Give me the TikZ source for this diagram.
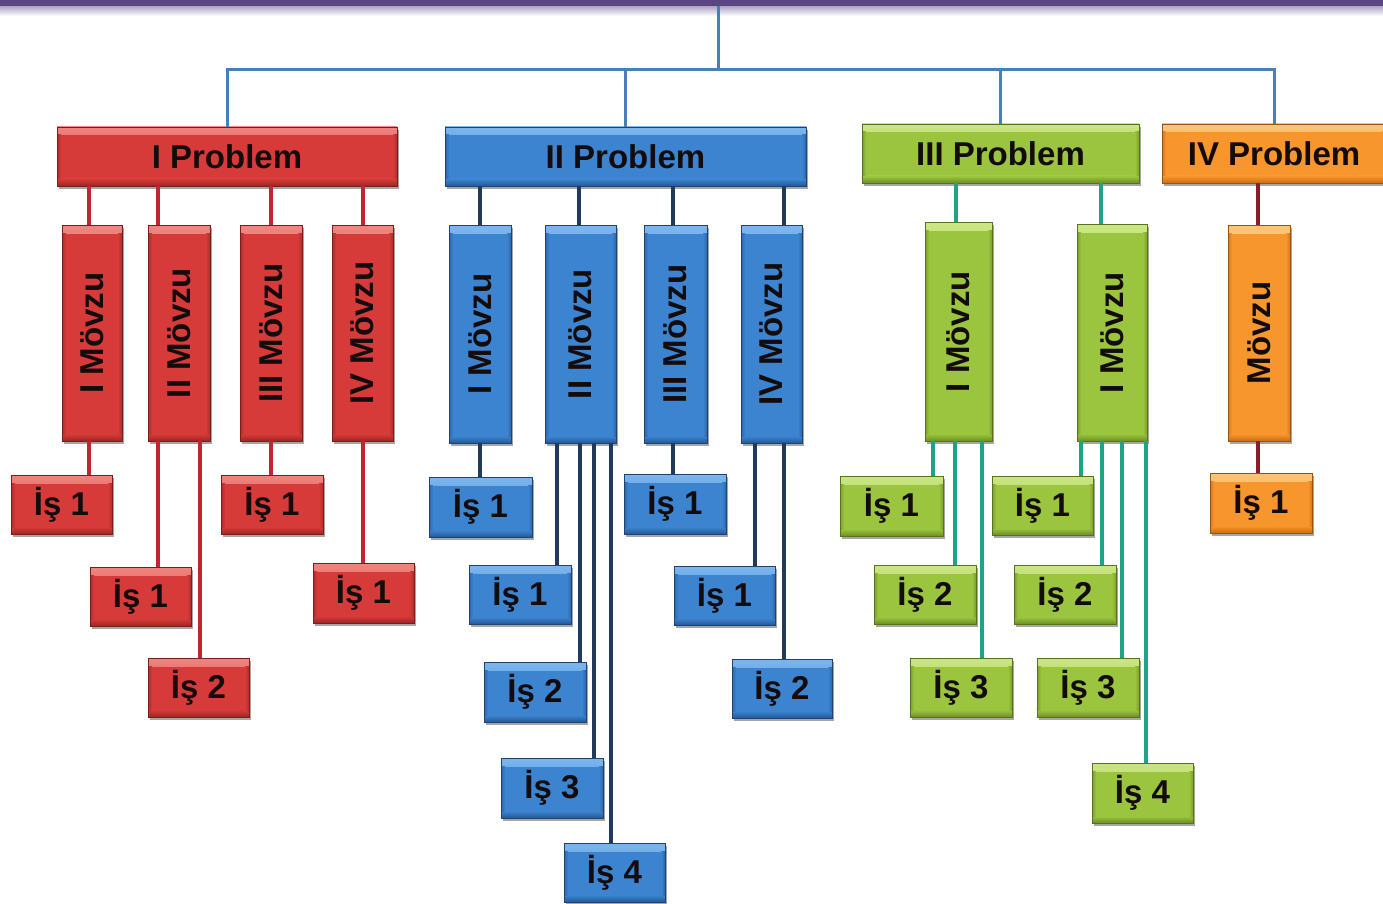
\documentclass[tikz,border=0pt]{standalone}
\usepackage{fontspec}
\setmainfont{Liberation Sans}
\usepackage{graphicx}
\usetikzlibrary{shadows}
\definecolor{R}{HTML}{D63B3A}\definecolor{RLt}{HTML}{F08580}\definecolor{RDk}{HTML}{9A2624}\definecolor{RBd}{HTML}{7A1E1C}
\definecolor{B}{HTML}{3C84CF}\definecolor{BLt}{HTML}{7DB6EE}\definecolor{BDk}{HTML}{24589A}\definecolor{BBd}{HTML}{1E4470}
\definecolor{G}{HTML}{9BC43F}\definecolor{GLt}{HTML}{CBE684}\definecolor{GDk}{HTML}{6E8E24}\definecolor{GBd}{HTML}{56741E}
\definecolor{O}{HTML}{F7962C}\definecolor{OLt}{HTML}{FCC677}\definecolor{ODk}{HTML}{C96C14}\definecolor{OBd}{HTML}{9A5410}
\definecolor{txt}{HTML}{140C0C}
\definecolor{topline}{HTML}{4A7EBB}
\definecolor{barpurple}{HTML}{5A4683}
\definecolor{lR}{HTML}{C02630}
\definecolor{lB}{HTML}{1F3A5A}
\definecolor{lG}{HTML}{1FA384}
\definecolor{lO}{HTML}{8C1C2C}
\tikzset{
  box/.style={draw=#1Bd, line width=0.8pt, inner sep=0pt, outer sep=0pt,
    fill=#1,
    path picture={
      \shade[top color=#1Lt, bottom color=#1] (path picture bounding box.north west) rectangle ([yshift=-8pt]path picture bounding box.north east);
      \shade[top color=#1, bottom color=#1Dk] ([yshift=7pt]path picture bounding box.south west) rectangle (path picture bounding box.south east);
      \shade[left color=#1Dk!70!#1, right color=#1] ([yshift=7pt]path picture bounding box.south west) rectangle ([xshift=4pt,yshift=-8pt]path picture bounding box.north west);
      \shade[left color=#1, right color=#1Dk!70!#1] ([xshift=-4pt,yshift=7pt]path picture bounding box.south east) rectangle ([yshift=-8pt]path picture bounding box.north east);
    },
    drop shadow={shadow xshift=2pt, shadow yshift=-3pt, opacity=0.35, fill=black},
    text=txt, font=\bfseries\fontsize{33}{37}\selectfont},
  conn/.style={line width=3.4pt, draw=#1},
  trunk/.style={line width=3pt, draw=topline}
}
\newcommand\bx[7]{\node[box=#2, minimum width={(#5-#3)*1pt}, minimum height={(#6-#4)*1pt}] (#1) at ({(#3+#5)/2},{(#4+#6)/2}) {#7};}
\newcommand\rot[1]{\rotatebox{90}{#1}}
\newcommand\lnk[4]{\coordinate (t) at (#4,0); \draw[conn=#1] (#2.south -| t) -- (#3.north -| t);}
\begin{document}
\begin{tikzpicture}[x=1pt,y=-1pt]
\fill[white] (0,0) rectangle (1383,904);
\useasboundingbox (0,0) rectangle (1383,904);
% top bar
\shade[top color=barpurple!55, bottom color=white] (0,5) rectangle (1383,16);
\node[fill=barpurple, inner sep=0pt, outer sep=0pt, minimum width=1383pt, minimum height=6pt, anchor=north west] (bar) at (0,0) {};
\coordinate (hub) at (718,70);
% problems
\bx{p1}{R}{57}{127}{397}{186}{I Problem}
\bx{p2}{B}{445}{127}{806}{186}{II Problem}
\bx{p3}{G}{862}{124}{1139}{183}{III Problem}
\bx{p4}{O}{1162}{124}{1386}{183}{IV Problem}
% trunk
\draw[trunk] (bar.south -| hub) -- (hub);
\draw[trunk] (p1.north) |- (hub) -| (p4.north);
\draw[trunk] (p2.north) -- (p2.north |- hub);
\draw[trunk] (p3.north) -- (p3.north |- hub);
% red
\bx{m11}{R}{62}{225}{122}{441}{\rot{I Mövzu}}
\bx{m12}{R}{148}{225}{210}{441}{\rot{II Mövzu}}
\bx{m13}{R}{240}{225}{302}{441}{\rot{III Mövzu}}
\bx{m14}{R}{332}{225}{393}{441}{\rot{IV Mövzu}}
\bx{i111}{R}{11}{475}{112}{534}{İş 1}
\bx{i121}{R}{90}{567}{191}{626}{İş 1}
\bx{i122}{R}{148}{658}{249}{717}{İş 2}
\bx{i131}{R}{221}{475}{323}{534}{İş 1}
\bx{i141}{R}{313}{563}{414}{623}{İş 1}
\lnk{lR}{p1}{m11}{89}
\lnk{lR}{p1}{m12}{158}
\lnk{lR}{p1}{m13}{271}
\lnk{lR}{p1}{m14}{363}
\lnk{lR}{m11}{i111}{89}
\lnk{lR}{m12}{i121}{158}
\lnk{lR}{m12}{i122}{200}
\lnk{lR}{m13}{i131}{271}
\lnk{lR}{m14}{i141}{363}
% blue
\bx{m21}{B}{449}{225}{511}{443}{\rot{I Mövzu}}
\bx{m22}{B}{545}{225}{616}{443}{\rot{II Mövzu}}
\bx{m23}{B}{644}{225}{707}{443}{\rot{III Mövzu}}
\bx{m24}{B}{741}{225}{802}{443}{\rot{IV Mövzu}}
\bx{i211}{B}{429}{477}{532}{537}{İş 1}
\bx{i221}{B}{469}{565}{571}{624}{İş 1}
\bx{i222}{B}{484}{662}{586}{722}{İş 2}
\bx{i223}{B}{501}{758}{603}{818}{İş 3}
\bx{i224}{B}{564}{843}{665}{902}{İş 4}
\bx{i231}{B}{624}{474}{726}{534}{İş 1}
\bx{i241}{B}{674}{566}{775}{625}{İş 1}
\bx{i242}{B}{732}{659}{832}{718}{İş 2}
\lnk{lB}{p2}{m21}{480}
\lnk{lB}{p2}{m22}{579}
\lnk{lB}{p2}{m23}{673}
\lnk{lB}{p2}{m24}{784}
\lnk{lB}{m21}{i211}{480}
\lnk{lB}{m22}{i221}{557}
\lnk{lB}{m22}{i222}{580}
\lnk{lB}{m22}{i223}{594}
\lnk{lB}{m22}{i224}{611}
\lnk{lB}{m23}{i231}{673}
\lnk{lB}{m24}{i241}{755}
\lnk{lB}{m24}{i242}{784}
% green
\bx{m31}{G}{925}{222}{992}{441}{\rot{I Mövzu}}
\bx{m32}{G}{1077}{224}{1147}{441}{\rot{I Mövzu}}
\bx{i311}{G}{840}{476}{943}{536}{İş 1}
\bx{i312}{G}{874}{565}{976}{624}{İş 2}
\bx{i313}{G}{910}{658}{1012}{717}{İş 3}
\bx{i321}{G}{992}{476}{1093}{535}{İş 1}
\bx{i322}{G}{1014}{565}{1116}{624}{İş 2}
\bx{i323}{G}{1037}{658}{1139}{717}{İş 3}
\bx{i324}{G}{1092}{763}{1193}{823}{İş 4}
\lnk{lG}{p3}{m31}{956}
\lnk{lG}{p3}{m32}{1101}
\lnk{lG}{m31}{i311}{933}
\lnk{lG}{m31}{i312}{955}
\lnk{lG}{m31}{i313}{982}
\lnk{lG}{m32}{i321}{1081}
\lnk{lG}{m32}{i322}{1102}
\lnk{lG}{m32}{i323}{1122}
\lnk{lG}{m32}{i324}{1146}
% orange
\bx{m41}{O}{1228}{225}{1290}{441}{\rot{Mövzu}}
\bx{i411}{O}{1210}{473}{1312}{533}{İş 1}
\lnk{lO}{p4}{m41}{1258}
\lnk{lO}{m41}{i411}{1258}
\end{tikzpicture}
\end{document}
